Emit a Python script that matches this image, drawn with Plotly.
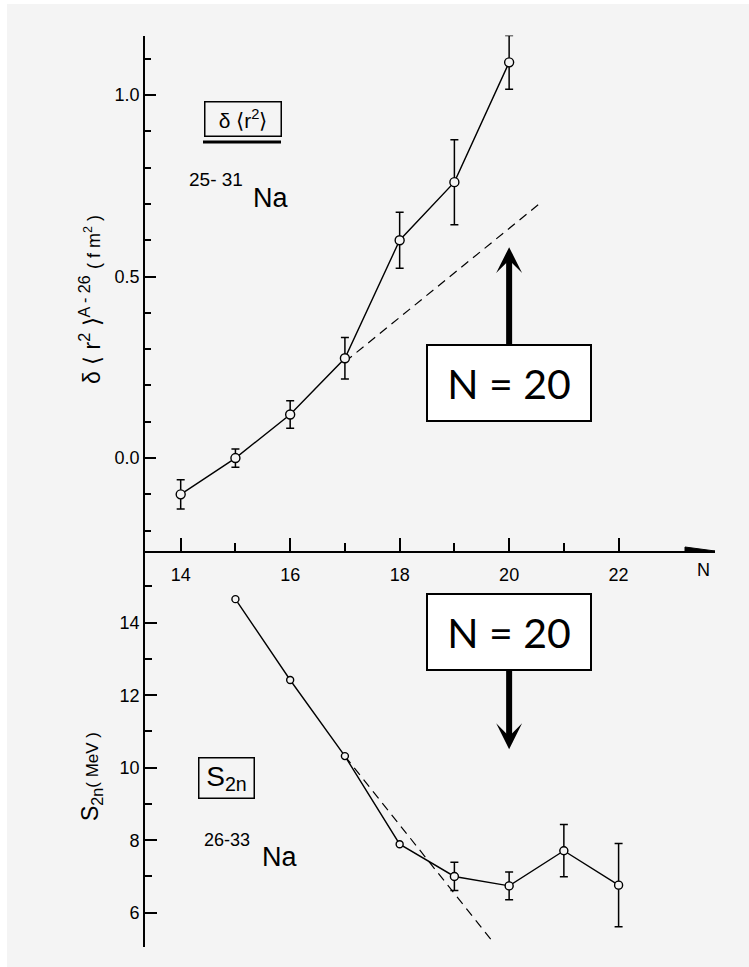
import plotly.graph_objects as go

# Charge-radius changes of Na isotopes (relative to A=26)
N_r2 = [14, 15, 16, 17, 18, 19, 20]
dr2 = [-0.10, 0.00, 0.12, 0.275, 0.60, 0.76, 1.09]
dr2_err = [0.04, 0.025, 0.038, 0.057, 0.077, 0.117, 0.074]

# Two-neutron separation energies of Na isotopes
N_s2n = [15, 16, 17, 18, 19, 20, 21, 22]
s2n = [14.65, 12.42, 10.32, 7.89, 7.00, 6.74, 7.71, 6.76]
s2n_err = [None, None, None, None, 0.39, 0.38, 0.72, 1.15]

# Extrapolated trends (dashed)
trend_r2_N = [17, 20.55]
trend_r2 = [0.265, 0.70]
trend_s2n_N = [17, 19.7]
trend_s2n = [10.32, 5.2]

x_major = [14, 16, 18, 20, 22]
x_minor = [15, 17, 19, 21]
magic_N = 20

W, H = 749, 967
BG = "#f4f4f4"
FONT = "Liberation Sans Narrow, Liberation Sans, Arial, sans-serif"
BOX_FONT = "Lato, Open Sans, sans-serif"


def px(x):
    return x / W


def py(y):
    return 1 - y / H


fig = go.Figure()

line_style = dict(color="black", width=1.4)
marker_style = dict(symbol="circle", size=9, color=BG, line=dict(color="black", width=1.4))

# upper panel: delta <r^2>
fig.add_trace(go.Scatter(
    x=trend_r2_N, y=trend_r2, mode="lines",
    line=dict(color="black", width=1.2, dash="9px,6px"),
    xaxis="x", yaxis="y", hoverinfo="skip"))
fig.add_trace(go.Scatter(
    x=N_r2, y=dr2, mode="lines+markers",
    line=line_style, marker=marker_style,
    error_y=dict(type="data", array=dr2_err, visible=True, color="black", thickness=1.5, width=4),
    xaxis="x", yaxis="y"))

# lower panel: S_2n
fig.add_trace(go.Scatter(
    x=trend_s2n_N, y=trend_s2n, mode="lines",
    line=dict(color="black", width=1.2, dash="9px,6px"),
    xaxis="x2", yaxis="y2", hoverinfo="skip"))
fig.add_trace(go.Scatter(
    x=N_s2n, y=s2n, mode="lines+markers",
    line=line_style, marker=dict(marker_style, size=7),
    xaxis="x2", yaxis="y2"))
idx = [i for i, e in enumerate(s2n_err) if e is not None]
fig.add_trace(go.Scatter(
    x=[N_s2n[i] for i in idx], y=[s2n[i] for i in idx], mode="markers",
    marker=dict(marker_style, size=8),
    error_y=dict(type="data", array=[s2n_err[i] for i in idx], visible=True,
                 color="black", thickness=1.5, width=4),
    xaxis="x2", yaxis="y2"))

x_dom = [px(145), px(715)]
x_rng = [13.348, 23.761]
y1_rng = [-0.256, 1.164]
y2_rng = [5.054, 15.978]

axis_common = dict(showgrid=False, zeroline=False, showline=True, linecolor="black",
                   linewidth=1.8, ticks="inside", tickcolor="black", tickwidth=1.5,
                   tickfont=dict(family=FONT, size=18, color="black"))

fig.update_layout(
    width=W, height=H,
    margin=dict(l=0, r=0, t=0, b=0),
    paper_bgcolor="white",
    plot_bgcolor="rgba(0,0,0,0)",
    showlegend=False,
    xaxis=dict(axis_common, domain=x_dom, range=x_rng, anchor="y",
               tickvals=x_major, ticktext=[str(v) for v in x_major], ticklen=13,
               ticklabelstandoff=6,
               minor=dict(tickvals=x_minor, ticklen=8, ticks="inside", tickcolor="black", tickwidth=1.5)),
    xaxis2=dict(domain=x_dom, range=x_rng, anchor="y2", visible=False),
    yaxis=dict(axis_common, domain=[py(551), py(35.5)], range=y1_rng, anchor="x",
               tickvals=[0.0, 0.5, 1.0], tickformat=".1f", ticklen=11,
               minor=dict(dtick=0.1, ticklen=6, ticks="inside", tickcolor="black", tickwidth=1.5)),
    yaxis2=dict(axis_common, domain=[py(947), py(551)], range=y2_rng, anchor="x2",
                tickvals=[6, 8, 10, 12, 14], ticklen=12,
                tickfont=dict(family=FONT, size=18, color="black"),
                minor=dict(tickvals=[7, 9, 11, 13, 15], ticklen=7, ticks="inside",
                           tickcolor="black", tickwidth=1.5)),
)

shapes = [
    # page background
    dict(type="rect", xref="paper", yref="paper", x0=px(7), x1=1, y0=0, y1=py(4),
         fillcolor=BG, line=dict(width=0), layer="below"),
    # arrowhead on the N axis
    dict(type="path", xref="x", yref="y", xsizemode="pixel", ysizemode="pixel",
         xanchor=x_rng[1], yanchor=y1_rng[0], path="M0,0 L-30,4 L-30,-4 Z",
         fillcolor="black", line=dict(color="black", width=1)),
    # double underline of the delta<r2> label
    dict(type="line", xref="paper", yref="paper", x0=px(203), x1=px(281), y0=py(142), y1=py(142),
         line=dict(color="black", width=3)),
]
fig.update_layout(shapes=shapes)


def label(text, x, y, size, **kw):
    d = dict(text=text, xref="paper", yref="paper", x=px(x), y=py(y),
             xanchor="center", yanchor="middle", showarrow=False,
             font=dict(family=FONT, size=size, color="black"))
    d.update(kw)
    return d


ann = []
# N = 20 markers with arrows
box = dict(text="N = 20", font=dict(family=BOX_FONT, size=41, color="black"),
           bgcolor="white", bordercolor="black", borderwidth=2, borderpad=0,
           width=162, height=74, showarrow=True, arrowhead=3, arrowwidth=6,
           arrowsize=0.72, arrowcolor="black", standoff=0,
           xanchor="center", yanchor="middle")
ann.append(dict(box, x=magic_N, y=0.581, ax=magic_N, ay=0.2066,
                xref="x", yref="y", axref="x", ayref="y"))
ann.append(dict(box, x=magic_N, y=10.51, ax=magic_N, ay=13.74,
                xref="x2", yref="y2", axref="x2", ayref="y2"))

# panel labels
ann.append(label("\u03b4 \u27e8r<sup>2</sup>\u27e9", 243, 119.5, 21,
                 bordercolor="black", borderwidth=1.5, borderpad=0, width=75, height=33))
ann.append(label("S<sub>2n</sub>", 226.5, 778, 28,
                 bordercolor="black", borderwidth=1.5, borderpad=0, width=54, height=39))

# isotope ranges
ann.append(label("25- 31", 215.5, 179, 19))
ann.append(label("Na", 270, 198, 27))
ann.append(label("26-33", 226.5, 840, 18))
ann.append(label("Na", 279, 857, 27))

# axis titles
ann.append(label("\u03b4 \u27e8 r<sup>2</sup> \u27e9<sup>A - 26</sup> "
                 "<span style='font-size:18px'>( f m<sup>2</sup> )</span>",
                 90, 300, 23, textangle=-90))
ann.append(label("S<sub>2n</sub><span style='font-size:17px'>( MeV )</span>",
                 91, 777, 23, textangle=-90))
ann.append(label("N", 703, 570, 18))

fig.update_layout(annotations=ann)

fig.write_html("out.html")
